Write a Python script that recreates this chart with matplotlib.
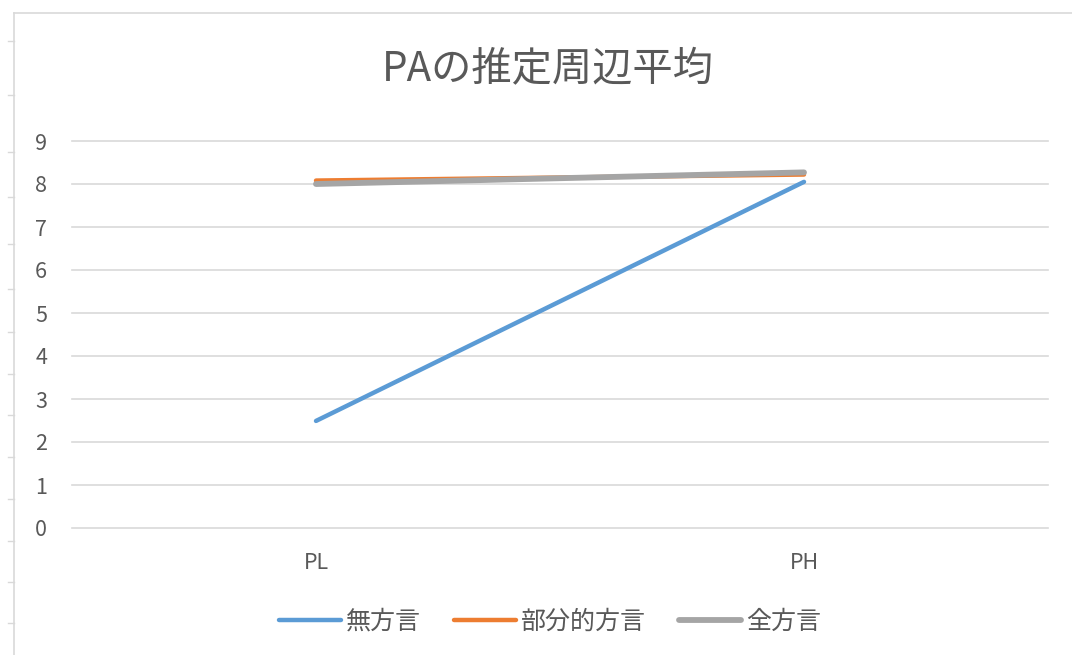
import matplotlib
matplotlib.use("Agg")
import matplotlib.pyplot as plt
from matplotlib.lines import Line2D

plt.rcParams['font.family'] = ['Noto Sans CJK JP', 'DejaVu Sans']

# data
categories = ["PL", "PH"]
series_names = ["無方言", "部分的方言", "全方言"]
mu_hougen = [2.49, 8.05]
bubun_hougen = [8.08, 8.22]
zen_hougen = [8.00, 8.27]
y_ticks = [0, 1, 2, 3, 4, 5, 6, 7, 8, 9]

colors = ["#5B9BD5", "#ED7D31", "#A5A5A5"]
widths = [3.2, 3.2, 4.2]
text_col = "#595959"

W, H = 1072, 655
fig = plt.figure(figsize=(W / 100, H / 100), dpi=100)
ax = fig.add_axes([72 / W, 1 - 528 / H, 976 / W, 387 / H])

x = list(range(len(categories)))
for vals, name, c, lw in zip([mu_hougen, bubun_hougen, zen_hougen], series_names, colors, widths):
    ax.plot(x, vals, color=c, lw=lw, label=name, solid_capstyle="round")

ax.set_xlim(-0.5, len(categories) - 0.5)
ax.set_ylim(0, 9)
ax.set_yticks(y_ticks)
ax.set_xticks(x)
ax.set_xticklabels(categories)
ax.yaxis.grid(True, color="#D9D9D9", lw=1.2)
for gl in ax.get_ygridlines():
    gl.set_clip_on(False)
ax.set_axisbelow(True)
for s in ax.spines.values():
    s.set_visible(False)
ax.tick_params(axis="both", length=0, labelsize=15.5, colors=text_col)
ax.tick_params(axis="x", pad=17)
ax.tick_params(axis="y", pad=18)

fig.text(548 / W, 1 - 70 / H, "PAの推定周辺平均", ha="center", va="center",
         fontsize=29, color=text_col)

fig.legend(loc="center", bbox_to_anchor=(550 / W, 1 - 622 / H), ncol=3,
           frameon=False, fontsize=18, handlelength=2.5, columnspacing=1.3,
           handletextpad=0.2, labelcolor=text_col)

# spreadsheet frame on left/top
frame = "#D9D9D9"
fig.add_artist(Line2D([14 / W, 14 / W], [0, 1 - 13 / H], color=frame, lw=1.2))
fig.add_artist(Line2D([14 / W, 1], [1 - 13 / H, 1 - 13 / H], color=frame, lw=1.2))
for ty in [41, 95, 152, 197, 244, 289, 332, 374, 415, 457, 499, 541, 582, 623]:
    fig.add_artist(Line2D([8 / W, 14 / W], [1 - ty / H, 1 - ty / H], color=frame, lw=1))

fig.savefig("out.png", dpi=100)
